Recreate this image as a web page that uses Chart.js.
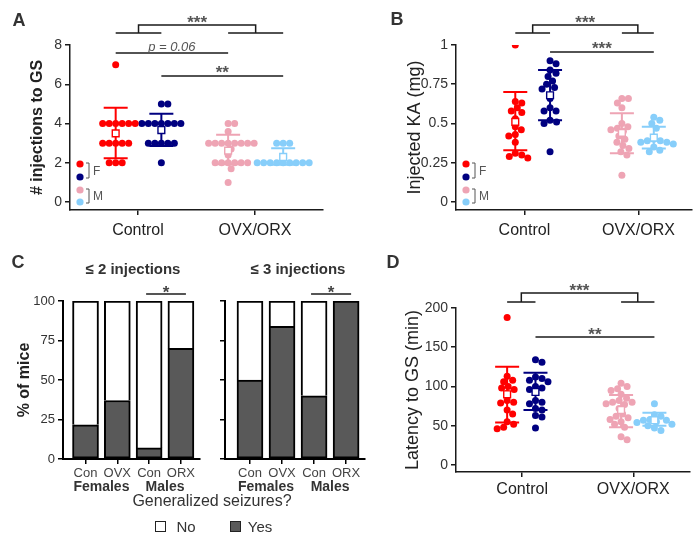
<!DOCTYPE html>
<html>
<head>
<meta charset="utf-8">
<script src="https://cdn.jsdelivr.net/npm/chart.js@4.4.0/dist/chart.umd.min.js"></script>
<style>
body { margin: 0; background: #fff; }
#fig { position: relative; width: 700px; height: 541px; overflow: hidden; font-family: 'Liberation Sans', Arial, sans-serif; color: #333; }
#fig canvas { position: absolute; }
.txt { position: absolute; transform: translate(-50%, -50%); white-space: nowrap; }
.letter { font-weight: bold; font-size: 18px; color: #333; }
.sub { font-weight: bold; font-size: 15px; color: #333; }
.box { position: absolute; width: 9px; height: 9px; border: 1.5px solid #222; }
</style>
</head>
<body>
<div id="fig">
  <canvas id="cA" width="350" height="270" style="left:0;top:0"></canvas>
  <canvas id="cB" width="350" height="270" style="left:350px;top:0"></canvas>
  <canvas id="cC1" width="205" height="271" style="left:0;top:270px"></canvas>
  <canvas id="cC2" width="170" height="271" style="left:200px;top:270px"></canvas>
  <canvas id="cD" width="350" height="271" style="left:350px;top:270px"></canvas>

  <div class="txt letter" style="left:19px;top:20px">A</div>
  <div class="txt letter" style="left:397px;top:19px">B</div>
  <div class="txt letter" style="left:18px;top:262px">C</div>
  <div class="txt letter" style="left:393px;top:262px">D</div>

  <div class="txt sub" style="left:133px;top:268px">≤ 2 injections</div>
  <div class="txt sub" style="left:298px;top:268px">≤ 3 injections</div>

  <div class="txt" style="left:212px;top:501px;font-size:16px;color:#333">Generalized seizures?</div>
  <div class="box" style="left:155px;top:521px;background:#fff"></div>
  <div class="txt" style="left:186px;top:526px;font-size:15px;color:#333">No</div>
  <div class="box" style="left:230px;top:521px;background:#595959"></div>
  <div class="txt" style="left:260px;top:526px;font-size:15px;color:#333">Yes</div>
</div>

<script>
Chart.defaults.font.family = "'Liberation Sans', Arial, sans-serif";
Chart.defaults.color = '#333';

// ---------------- data ----------------
const groupLabels = ['Control', 'OVX/ORX'];
const seriesNames = ['Control F', 'Control M', 'OVX F', 'ORX M'];

// A: # injections to GS
const injCtrlF = [7, 4, 4, 4, 4, 4, 4, 3, 3, 3, 3, 3, 2, 2, 2];
const injCtrlM = [5, 5, 4, 4, 4, 4, 4, 4, 4, 3, 3, 3, 3, 3, 2];
const injOvxF = [4, 4, 3.6, 3, 3, 3, 3, 3, 3, 3, 3, 2.7, 2.4, 2, 2, 2, 2, 2, 2, 1.7, 1];
const injOrxM = [3, 3, 3, 2, 2, 2, 2, 2, 2, 2, 2, 2];
const injMean = [3.5, 3.67, 2.62, 2.3];
const injSdLo = [2.24, 2.86, 1.93, 1.9];
const injSdHi = [4.8, 4.5, 3.43, 2.75];

// B: injected KA (mg)
const kaCtrlF = [1.0, 0.64, 0.63, 0.60, 0.58, 0.57, 0.53, 0.48, 0.46, 0.43, 0.42, 0.38, 0.31, 0.30, 0.29, 0.28];
const kaCtrlM = [0.90, 0.88, 0.84, 0.82, 0.80, 0.77, 0.75, 0.73, 0.72, 0.66, 0.60, 0.58, 0.58, 0.52, 0.51, 0.50, 0.32];
const kaOvxF = [0.66, 0.66, 0.63, 0.60, 0.50, 0.48, 0.47, 0.46, 0.45, 0.42, 0.40, 0.38, 0.36, 0.34, 0.32, 0.30, 0.17];
const kaOrxM = [0.54, 0.52, 0.50, 0.47, 0.40, 0.39, 0.39, 0.38, 0.38, 0.37, 0.35, 0.33, 0.32];
const kaMean = [0.51, 0.68, 0.44, 0.41];
const kaSdLo = [0.33, 0.52, 0.31, 0.34];
const kaSdHi = [0.70, 0.84, 0.565, 0.48];

// C: % of mice with generalized seizures
const barLabels = ['Con', 'OVX', 'Con', 'ORX'];
const sexLabels = ['Females', 'Males'];
const yes2 = [21.7, 37, 7, 70];
const no2 = [78.3, 63, 93, 30];
const yes3 = [50, 84, 40, 100];
const no3 = [50, 16, 60, 0];

// D: latency to GS (min)
const latCtrlF = [188, 113, 108, 106, 100, 98, 96, 91, 82, 80, 79, 70, 65, 55, 52, 48, 46];
const latCtrlM = [134, 131, 112, 110, 108, 106, 100, 98, 96, 82, 80, 78, 72, 70, 63, 61, 47];
const latOvxF = [104, 100, 97, 95, 90, 85, 82, 80, 80, 78, 77, 72, 65, 62, 60, 58, 55, 52, 48, 36, 32];
const latOrxM = [78, 64, 62, 58, 57, 57, 55, 54, 52, 50, 47, 44];
const latMean = [90, 93, 70, 57];
const latSdLo = [54, 70, 48, 50];
const latSdHi = [125, 117.5, 89, 66.5];

const COLORS = ['#ff0000', '#000080', '#eea4b4', '#87cefa'];
const AXIS = '#1a1a1a';

// ---------------- plugins ----------------
const errorBarPlugin = {
    id: 'errorBars',
    beforeDatasetsDraw(chart) {
        const o = chart.$extra;
        if (!o) return;
        const { ctx, scales: { x, y } } = chart;
        o.mean.forEach((m, i) => {
            const px = x.getPixelForValue(o.centers[i]);
            const yl = y.getPixelForValue(o.lo[i]);
            const yh = y.getPixelForValue(o.hi[i]);
            ctx.save();
            ctx.strokeStyle = COLORS[i];
            ctx.lineWidth = 2;
            ctx.beginPath();
            ctx.moveTo(px, yl); ctx.lineTo(px, yh);
            ctx.moveTo(px - 12, yl); ctx.lineTo(px + 12, yl);
            ctx.moveTo(px - 12, yh); ctx.lineTo(px + 12, yh);
            ctx.stroke();
            ctx.restore();
        });
    }
};

const sigPlugin = {
    id: 'sig',
    afterDraw(chart) {
        const o = chart.$extra;
        if (!o) return;
        const { ctx, scales: { x } } = chart;
        const cx = i => x.getPixelForValue(o.centers[i]);
        ctx.save();
        ctx.strokeStyle = AXIS;
        ctx.lineWidth = 1.5;
        ctx.textAlign = 'center';
        ctx.textBaseline = 'alphabetic';
        o.sig.forEach(s => {
            let tx;
            ctx.beginPath();
            if (s.bracket) {
                const m1 = (cx(0) + cx(1)) / 2, m2 = (cx(2) + cx(3)) / 2;
                ctx.moveTo(cx(0), s.y); ctx.lineTo(cx(1), s.y);
                ctx.moveTo(cx(2), s.y); ctx.lineTo(cx(3), s.y);
                ctx.moveTo(m1, s.y); ctx.lineTo(m1, s.peak); ctx.lineTo(m2, s.peak); ctx.lineTo(m2, s.y);
                tx = (m1 + m2) / 2;
            } else {
                ctx.moveTo(cx(s.from), s.y); ctx.lineTo(cx(s.to), s.y);
                tx = (cx(s.from) + cx(s.to)) / 2;
            }
            ctx.stroke();
            ctx.fillStyle = '#555';
            ctx.font = s.italic ? "italic 13px 'Liberation Sans', Arial, sans-serif"
                                : "bold 17px 'Liberation Sans', Arial, sans-serif";
            ctx.fillText(s.text, tx, s.ty);
        });

        if (o.legend) {
            const lx = chart.chartArea.left + 10;
            const b = chart.chartArea.bottom;
            const ly = [b - 46, b - 33, b - 20, b - 8];
            ly.forEach((yy, i) => {
                ctx.fillStyle = COLORS[i];
                ctx.beginPath();
                ctx.arc(lx, yy, 3.6, 0, Math.PI * 2);
                ctx.fill();
            });
            ctx.strokeStyle = '#555';
            ctx.lineWidth = 1;
            ctx.fillStyle = '#555';
            ctx.font = "12px 'Liberation Sans', Arial, sans-serif";
            ctx.textAlign = 'left';
            ctx.textBaseline = 'middle';
            [['F', ly[0], ly[1]], ['M', ly[2], ly[3]]].forEach(([t, y1, y2]) => {
                ctx.beginPath();
                ctx.moveTo(lx + 6, y1 - 1); ctx.lineTo(lx + 9, y1 - 1);
                ctx.lineTo(lx + 9, y2 + 1); ctx.lineTo(lx + 6, y2 + 1);
                ctx.stroke();
                ctx.fillText(t, lx + 13, (y1 + y2) / 2 + 1);
            });
        }
        ctx.restore();
    }
};

// spread points of each group sideways so they don't overlap
function beeswarm(chart, gap) {
    const xs = chart.scales.x, ys = chart.scales.y;
    chart.$extra.centers.forEach((c, i) => {
        const ds = chart.data.datasets[i];
        const cx = xs.getPixelForValue(c);
        const placed = [];
        const idx = ds.data.map((d, k) => k).sort((a, b) => ds.data[b].y - ds.data[a].y);
        idx.forEach(k => {
            const py = ys.getPixelForValue(ds.data[k].y);
            let off = 0;
            for (let n = 0; n < 400; n++) {
                const cand = n === 0 ? 0 : (n % 2 ? 1 : -1) * Math.ceil(n / 2) * 0.5;
                const ok = placed.every(p => (p.x - cx - cand) ** 2 + (p.y - py) ** 2 >= gap * gap - 0.01);
                if (ok) { off = cand; break; }
            }
            placed.push({ x: cx + off, y: py });
            ds.data[k].x = xs.getValueForPixel(cx + off);
        });
    });
    chart.update('none');
}

function makeStrip(id, o) {
    const datasets = o.series.map((vals, i) => ({
        label: seriesNames[i],
        data: vals.map(v => ({ x: o.centers[i], y: v })),
        backgroundColor: COLORS[i],
        borderWidth: 0,
        pointRadius: 3.5,
        order: 1
    }));
    datasets.push({
        label: 'Mean',
        data: o.mean.map((m, i) => ({ x: o.centers[i], y: m })),
        pointStyle: 'rect',
        pointRadius: 4.8,
        backgroundColor: '#fff',
        borderColor: COLORS,
        borderWidth: 1.4,
        order: 0
    });
    const chart = new Chart(document.getElementById(id), {
        type: 'scatter',
        data: { datasets },
        options: {
            responsive: false,
            animation: false,
            devicePixelRatio: 1,
            layout: { padding: o.padding },
            plugins: { legend: { display: false }, tooltip: { enabled: false } },
            scales: {
                x: {
                    type: 'linear',
                    min: o.xMin, max: o.xMax,
                    afterBuildTicks: s => { s.ticks = [{ value: 1 }, { value: 2 }]; },
                    afterFit: s => { s.height = o.xAxisH; },
                    ticks: {
                        callback: (v, i) => groupLabels[i],
                        font: { size: 16 }, color: '#222',
                        padding: o.xPad, maxRotation: 0, autoSkip: false
                    },
                    grid: { drawOnChartArea: false, tickLength: 5, color: AXIS, lineWidth: 1.5 },
                    border: { color: AXIS, width: 1.5 }
                },
                y: {
                    min: o.yMin, max: o.yMax,
                    afterFit: s => { s.width = o.yAxisW; },
                    ticks: {
                        stepSize: o.step, includeBounds: false,
                        font: { size: 14 }, color: '#333', padding: 3,
                        callback: v => String(v)
                    },
                    title: {
                        display: true, text: o.title, color: '#222',
                        font: { size: o.titleSize, weight: o.titleWeight },
                        padding: { top: o.titlePad, bottom: 0 }
                    },
                    grid: { drawOnChartArea: false, tickLength: 5, color: AXIS, lineWidth: 1.5 },
                    border: { color: AXIS, width: 1.5 }
                }
            }
        },
        plugins: [errorBarPlugin, sigPlugin]
    });
    chart.$extra = o;
    beeswarm(chart, 6.5);
    return chart;
}

// ---------------- C: stacked bars ----------------
const barPlugin = {
    id: 'barNotes',
    afterDraw(chart) {
        const o = chart.$extra;
        if (!o) return;
        const { ctx, scales: { x }, chartArea } = chart;
        ctx.save();
        ctx.fillStyle = '#333';
        ctx.textAlign = 'center';
        ctx.textBaseline = 'middle';
        ctx.font = "bold 14px 'Liberation Sans', Arial, sans-serif";
        ctx.fillText(sexLabels[0], (x.getPixelForValue(0) + x.getPixelForValue(1)) / 2, chartArea.bottom + 28);
        ctx.fillText(sexLabels[1], (x.getPixelForValue(2) + x.getPixelForValue(3)) / 2, chartArea.bottom + 28);
        // significance between the male bars
        const a = x.getPixelForValue(2) - 3, b = x.getPixelForValue(3) + 5;
        ctx.strokeStyle = '#555';
        ctx.lineWidth = 2;
        ctx.beginPath();
        ctx.moveTo(a, 24); ctx.lineTo(b, 24);
        ctx.stroke();
        ctx.fillStyle = '#444';
        ctx.textBaseline = 'alphabetic';
        ctx.font = "bold 17px 'Liberation Sans', Arial, sans-serif";
        ctx.fillText('*', (a + b) / 2, 28);
        ctx.restore();
    }
};

function makeBars(id, o) {
    const chart = new Chart(document.getElementById(id), {
        type: 'bar',
        data: {
            datasets: [
                {
                    label: 'Yes',
                    data: o.yes.map((v, i) => ({ x: i, y: v })),
                    backgroundColor: '#595959', borderColor: '#000',
                    borderWidth: 2, borderSkipped: false, barThickness: 26
                },
                {
                    label: 'No',
                    data: o.no.map((v, i) => ({ x: i, y: v })),
                    backgroundColor: '#fff', borderColor: '#000',
                    borderWidth: { top: 2, left: 2, right: 2, bottom: 0 },
                    borderSkipped: false, barThickness: 26
                }
            ]
        },
        options: {
            responsive: false,
            animation: false,
            devicePixelRatio: 1,
            layout: { padding: o.padding },
            plugins: { legend: { display: false }, tooltip: { enabled: false } },
            scales: {
                x: {
                    type: 'linear', stacked: true, offset: false,
                    min: o.xMin, max: o.xMax,
                    afterBuildTicks: s => { s.ticks = [0, 1, 2, 3].map(v => ({ value: v })); },
                    afterFit: s => { s.height = o.xAxisH; },
                    ticks: {
                        callback: (v, i) => barLabels[i],
                        font: { size: 13 }, color: '#444',
                        padding: 2, maxRotation: 0, autoSkip: false
                    },
                    grid: { offset: false, drawOnChartArea: false, tickLength: 5, color: '#000', lineWidth: 1.5 },
                    border: { color: '#000', width: 2 }
                },
                y: {
                    stacked: true, min: 0, max: 100,
                    afterFit: s => { s.width = o.yAxisW; },
                    ticks: {
                        stepSize: 25, font: { size: 13 }, color: '#333', padding: 3,
                        callback: v => (o.showY ? String(v) : '')
                    },
                    title: {
                        display: o.showY, text: '% of mice', color: '#222',
                        font: { size: 16, weight: 'bold' },
                        padding: { top: 15, bottom: 0 }
                    },
                    grid: { drawOnChartArea: false, tickLength: 5, color: '#000', lineWidth: 1.5 },
                    border: { color: '#000', width: 2 }
                }
            }
        },
        plugins: [barPlugin]
    });
    chart.$extra = o;
    chart.update('none');
    return chart;
}

// ---------------- build panels ----------------
makeStrip('cA', {
    series: [injCtrlF, injCtrlM, injOvxF, injOrxM],
    mean: injMean, lo: injSdLo, hi: injSdHi,
    centers: [0.81, 1.2, 1.77, 2.24],
    xMin: 0.42, xMax: 2.58, yMin: -0.4, yMax: 8, step: 2,
    padding: { top: 45, right: 27, left: 0, bottom: 0 },
    yAxisW: 70, xAxisH: 60, xPad: 6,
    title: '# injections to GS', titleSize: 16, titleWeight: 'bold', titlePad: 28,
    legend: true,
    sig: [
        { bracket: true, y: 33, peak: 25, text: '***', ty: 28 },
        { from: 0, to: 2, y: 53, text: 'p = 0.06', ty: 51, italic: true },
        { from: 1, to: 3, y: 76, text: '**', ty: 78 }
    ]
});

makeStrip('cB', {
    series: [kaCtrlF, kaCtrlM, kaOvxF, kaOrxM],
    mean: kaMean, lo: kaSdLo, hi: kaSdHi,
    centers: [0.92, 1.225, 1.855, 2.135],
    xMin: 0.4, xMax: 2.47, yMin: -0.051, yMax: 1, step: 0.25,
    padding: { top: 45, right: 8, left: 0, bottom: 0 },
    yAxisW: 106, xAxisH: 60, xPad: 6,
    title: 'Injected KA (mg)', titleSize: 18, titleWeight: 'normal', titlePad: 54,
    legend: true,
    sig: [
        { bracket: true, y: 33, peak: 25, text: '***', ty: 28 },
        { from: 1, to: 3, y: 52, text: '***', ty: 54 }
    ]
});

makeBars('cC1', {
    yes: yes2, no: no2, showY: true,
    xMin: -0.708, xMax: 3.6,
    padding: { top: 31, right: 5, left: 0, bottom: 0 },
    yAxisW: 63, xAxisH: 82
});

makeBars('cC2', {
    yes: yes3, no: no3, showY: false,
    xMin: -0.78, xMax: 3.59,
    padding: { top: 31, right: 5, left: 0, bottom: 0 },
    yAxisW: 25, xAxisH: 82
});

makeStrip('cD', {
    series: [latCtrlF, latCtrlM, latOvxF, latOrxM],
    mean: latMean, lo: latSdLo, hi: latSdHi,
    centers: [0.865, 1.12, 1.89, 2.19],
    xMin: 0.405, xMax: 2.51, yMin: -9, yMax: 200, step: 50,
    padding: { top: 38, right: 10, left: 0, bottom: 0 },
    yAxisW: 106, xAxisH: 69, xPad: 3,
    title: 'Latency to GS (min)', titleSize: 18, titleWeight: 'normal', titlePad: 52,
    legend: false,
    sig: [
        { bracket: true, y: 32, peak: 23, text: '***', ty: 26 },
        { from: 1, to: 3, y: 67, text: '**', ty: 70 }
    ]
});
</script>
</body>
</html>
